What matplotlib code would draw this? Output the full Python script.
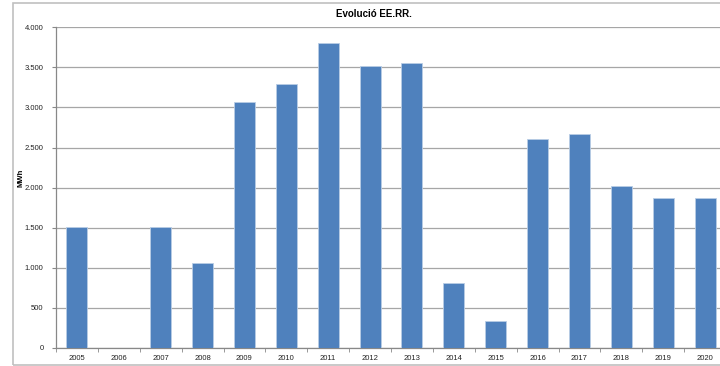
import numpy as np
import matplotlib
matplotlib.use('Agg')
import matplotlib.pyplot as plt
from matplotlib.patches import Rectangle
from matplotlib.ticker import FuncFormatter

plt.rcParams['font.family'] = ['Liberation Sans', 'DejaVu Sans']

years = ['2005', '2006', '2007', '2008', '2009', '2010', '2011', '2012',
         '2013', '2014', '2015', '2016', '2017', '2018', '2019', '2020']
mwh = [1515, 0, 1515, 1056, 3064, 3296, 3799, 3512,
       3550, 806, 341, 2606, 2668, 2020, 1870, 1870]

fig = plt.figure(figsize=(7.2, 3.66), dpi=100)
# chart area border (Excel style), cut on the right like the original
fig.patches.append(Rectangle((13 / 720, 1 / 366), 1.0, 362 / 366, transform=fig.transFigure,
                             fill=False, edgecolor='#c0c0c0', linewidth=1.2))

ax = fig.add_axes([56 / 720, 18 / 366, 670 / 720, 320.7 / 366])
x = np.arange(len(years))
ax.bar(x, mwh, width=0.5, color='#4F81BD', edgecolor='#B9CDE5', linewidth=0.6, zorder=3)

ax.set_xlim(-0.5, len(years) - 0.5)
ax.set_ylim(0, 4000)
ax.set_yticks(np.arange(0, 4001, 500))
ax.yaxis.set_major_formatter(FuncFormatter(lambda v, p: f'{int(v):,}'.replace(',', '.')))
ax.grid(axis='y', color='#a6a6a6', linewidth=0.9, zorder=0)

ax.set_xticks(x)
ax.set_xticklabels(years)
ax.set_xticks(np.arange(-0.5, len(years), 1), minor=True)
ax.tick_params(axis='x', which='major', length=0, labelsize=5.5, pad=5, labelcolor='#222222')
ax.tick_params(axis='x', which='minor', length=3, color='#888888')
ax.tick_params(axis='y', length=3, color='#888888', labelsize=5.5, pad=6, labelcolor='#222222')

for side in ['top', 'right']:
    ax.spines[side].set_visible(False)
for side in ['left', 'bottom']:
    ax.spines[side].set_color('#888888')
    ax.spines[side].set_linewidth(0.9)

ax.set_ylabel('MWh', fontsize=5.5, fontweight='bold')
ax.yaxis.set_label_coords(-0.047, 0.53)
fig.text(374 / 720, 1 - 14 / 366, 'Evolució EE.RR.', ha='center', va='center',
         fontsize=7, fontweight='bold')

fig.savefig('out.png', dpi=100)
